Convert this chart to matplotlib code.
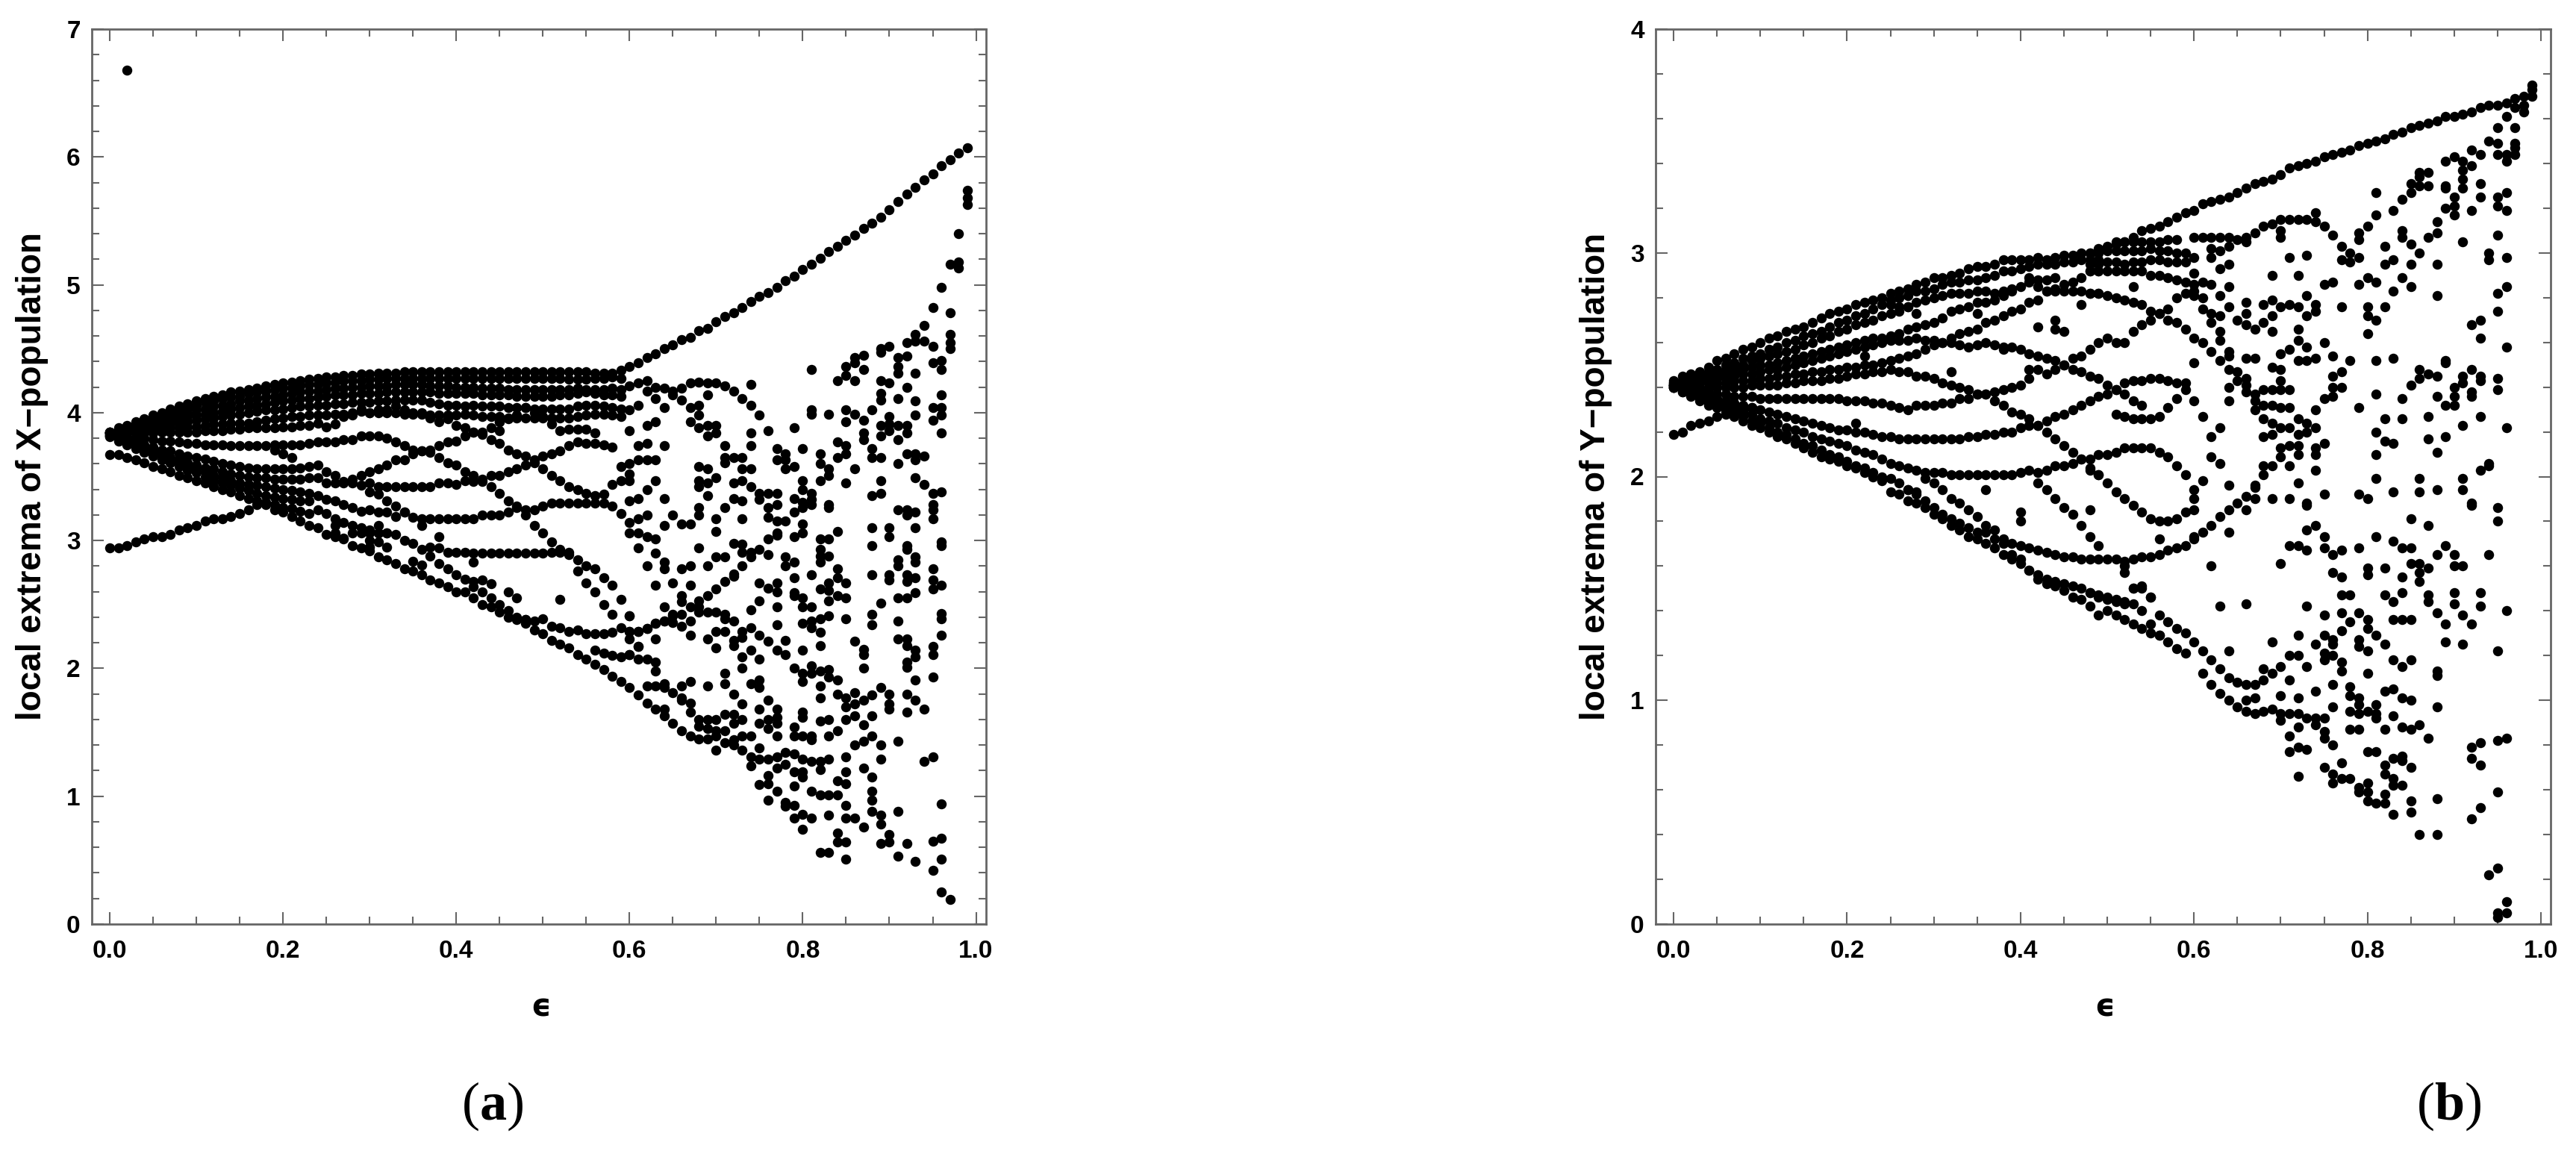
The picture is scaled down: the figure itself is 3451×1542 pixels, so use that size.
import numpy as np
import matplotlib
matplotlib.use("Agg")
import matplotlib.pyplot as plt
from matplotlib.ticker import MultipleLocator

plt.rcParams['font.family'] = ['Liberation Sans', 'DejaVu Sans']
plt.rcParams['mathtext.fontset'] = 'custom'
plt.rcParams['mathtext.rm'] = 'Liberation Serif'
plt.rcParams['mathtext.bf'] = 'Liberation Serif:bold'

# ---------- Panel (a): X-population, branches (values at 0.01 steps of epsilon) ----------
a_top = [3.85,3.88,3.90,3.93,3.95,3.98,4.00,4.03,4.05,4.07,4.09,4.11,4.13,4.14,4.16,4.17,4.18,4.19,4.21,4.22,4.23,4.24,4.25,4.26,4.27,4.28,4.28,4.29,4.29,4.30,4.30,4.31,4.31,4.31,4.32,4.32,4.32,4.32,4.32,4.32,4.32,4.32,4.32,4.32,4.32,4.32,4.32,4.32,4.32,4.32,4.32,4.32,4.32,4.32,4.32,4.32,4.31,4.31,4.31,4.33,
 4.36,4.39,4.43,4.46,4.50,4.53,4.57,4.59,4.64,4.66,4.71,4.75,4.78,4.82,4.87,4.91,4.94,4.98,5.03,5.07,5.12,5.16,5.21,5.26,5.30,5.35,5.39,5.44,5.48,5.53,5.59,5.65,5.71,5.76,5.82,5.87,5.93,5.98,6.03,6.07]
a_u1 = [3.85,3.87,3.89,3.91,3.94,3.96,3.98,4.00,4.02,4.04,4.06,4.08,4.09,4.11,4.12,4.13,4.15,4.16,4.17,4.18,4.19,4.20,4.21,4.22,4.22,4.23,4.24,4.25,4.25,4.25,4.26,4.26,4.27,4.27,4.27,4.27,4.27,4.27,4.27,4.27,4.27,4.27,4.27,4.27,4.27,4.27,4.27,4.27,4.27,4.27,4.27,4.27,4.27,4.26,4.26,4.26,4.27,4.27,4.28,4.27]
a_u2 = [3.85,3.87,3.88,3.90,3.92,3.94,3.95,3.97,3.99,4.00,4.02,4.03,4.05,4.06,4.07,4.09,4.10,4.11,4.12,4.13,4.14,4.15,4.16,4.17,4.17,4.18,4.19,4.19,4.20,4.20,4.21,4.21,4.21,4.22,4.22,4.22,4.22,4.21,4.21,4.21,4.20,4.20,4.20,4.19,4.19,4.19,4.18,4.18,4.18,4.18,4.18,4.18,4.18,4.18,4.19,4.18,4.18,4.18,4.19,4.18]
a_u3 = [3.85,3.86,3.87,3.89,3.90,3.91,3.93,3.94,3.95,3.97,3.98,3.99,4.00,4.01,4.03,4.04,4.05,4.06,4.07,4.08,4.09,4.10,4.11,4.11,4.12,4.13,4.14,4.14,4.14,4.15,4.15,4.15,4.16,4.16,4.16,4.16,4.16,4.16,4.15,4.15,4.15,4.15,4.15,4.14,4.14,4.14,4.14,4.13,4.13,4.13,4.13,4.13,4.14,4.14,4.15,4.16,4.15,4.14,4.14,4.13]
a_u4 = [3.84,3.85,3.86,3.87,3.88,3.89,3.90,3.91,3.92,3.93,3.94,3.95,3.96,3.97,3.98,3.99,4.00,4.01,4.02,4.02,4.03,4.04,4.05,4.05,4.06,4.06,4.07,4.07,4.08,4.08,4.08,4.09,4.09,4.10,4.10,4.10,4.10,4.08,4.07,4.06,4.06,4.05,4.06,4.05,4.05,4.05,4.04,4.04,4.04,4.03,4.03,4.03,4.03,4.03,4.05,4.06,4.06,4.05,4.04,4.03]
a_u5 = [3.84,3.84,3.85,3.85,3.86,3.87,3.87,3.88,3.88,3.89,3.89,3.90,3.91,3.91,3.92,3.92,3.92,3.93,3.94,3.95,3.96,3.97,3.97,3.98,3.98,3.98,3.99,3.99,4.00,4.01,4.00,4.00,4.00,4.00,3.99,3.99,3.99,3.98,3.98,3.98,3.98,3.99,3.98,3.97,3.97,3.97,3.96,3.96,3.96,3.96,3.96,3.96,3.96,3.96,3.97,3.98,3.99,3.99,3.98,3.97]
a_u6 = [3.84,3.84,3.84,3.84,3.84,3.84,3.85,3.85,3.85,3.85,3.85,3.86,3.86,3.86,3.87,3.87,3.88,3.88,3.88,3.88,3.89,3.89,3.90,3.90]
a_ra = [3.92,3.89,3.91,3.97,3.98,4.03,4.00,4.02,4.02,4.05,4.02,4.00,4.00,3.96,3.93,3.95,3.90,3.88,3.85,3.83,3.79,3.76,3.71,3.68,3.66,3.61,3.56,3.51,3.47,3.42,3.40,3.37,3.35,3.36,3.44,3.47]
a_l8 = [3.83,3.82,3.81,3.80,3.80,3.79,3.78,3.78,3.77,3.76,3.76,3.75,3.75,3.75,3.74,3.74,3.74,3.74,3.74,3.75,3.75,3.75,3.75,3.76]
a_rb = [3.77,3.77,3.77,3.79,3.79,3.82,3.82,3.82,3.80,3.77,3.74,3.71,3.70,3.69,3.65,3.61,3.59,3.54,3.51,3.48,3.42,3.37,3.31,3.27,3.20,3.12,3.06,2.99,2.93,2.89,2.85,2.80,2.78,2.71,2.65,2.54,2.41]
a_l9 = [3.83,3.81,3.79,3.77,3.75,3.73,3.71,3.70,3.68,3.66,3.65,3.64,3.62,3.60,3.59,3.58,3.57,3.56,3.56,3.56,3.56,3.56,3.57,3.58]
a_rc = [3.59,3.54,3.51,3.46,3.48,3.51,3.54,3.56,3.59,3.63,3.63,3.68,3.70,3.71,3.74,3.77,3.78,3.82,3.85,3.85,3.88,3.93,3.95,3.98,4.04,4.00,3.97,3.91,3.86,3.87,3.87,3.87,3.84]
a_l10 = [3.82,3.80,3.77,3.75,3.72,3.70,3.68,3.65,3.63,3.61,3.59,3.57,3.56,3.54,3.52,3.51,3.50,3.49,3.49,3.48,3.48,3.48,3.48,3.49]
a_rd = [3.49,3.45,3.45,3.45,3.45,3.43,3.45,3.42,3.42,3.42,3.42,3.42,3.42,3.42,3.45,3.45,3.44,3.47,3.46,3.46,3.51,3.51,3.54,3.56,3.59,3.63,3.66,3.68,3.70,3.74,3.77,3.76,3.76,3.75,3.73,3.58]
a_l11 = [3.82,3.79,3.76,3.74,3.71,3.68,3.66,3.63,3.61,3.58,3.56,3.54,3.51,3.49,3.47,3.45,3.44,3.43,3.42,3.41,3.40,3.39,3.38,3.37]
a_re = [3.35,3.32,3.31,3.28,3.26,3.23,3.24,3.22,3.22,3.19,3.22,3.18,3.17,3.17,3.17,3.17,3.17,3.17,3.17,3.20,3.20,3.20,3.22,3.26,3.24,3.24,3.27,3.29,3.29,3.29,3.29,3.29,3.29,3.29,3.27,3.21,3.14,3.06]
a_l12 = [3.81,3.78,3.75,3.72,3.69,3.66,3.63,3.61,3.58,3.55,3.53,3.50,3.47,3.45,3.43,3.41,3.39,3.37,3.35,3.34,3.33,3.32,3.31,3.31]
a_desc = [3.67,3.67,3.65,3.63,3.61,3.58,3.56,3.54,3.51,3.49,3.47,3.45,3.42,3.40,3.38,3.35,3.33,3.31,3.30,3.28,3.26,3.25,3.23,3.21,3.24,3.21]
a_rf = [3.17,3.14,3.12,3.10,3.08,3.06,3.06,3.05,3.00,2.98,2.93,2.95,2.94,2.91,2.91,2.91,2.90,2.90,2.90,2.90,2.90,2.90,2.90,2.90,2.90,2.91,2.91,2.91,2.76,2.67,2.60,2.50,2.42]
a_low = [2.94,2.94,2.96,2.99,3.01,3.03,3.03,3.05,3.08,3.10,3.12,3.15,3.17,3.17,3.19,3.21,3.24,3.28,3.28,3.24,3.22,3.19,3.15,3.12,3.10,3.05,3.03,3.01,2.96,2.94,2.92,2.87,2.85,2.82,2.78,2.76,2.73,2.69,2.67,2.64,2.60,2.60,2.55,2.50,2.48,2.44,2.40,2.38,2.35,2.30,2.27,2.22,2.19,2.16,2.11,2.07,2.03,1.99,1.94,1.90,1.85,1.79,1.73,1.68,1.63,1.57,1.51,1.47,1.45,1.45,1.47,1.42,1.40,1.36,1.31,1.29,1.29,1.31,1.34,1.33,1.29,1.27,1.27]
a_row229 = [2.38,2.37,2.39,2.33,2.32,2.29,2.30,2.27,2.27,2.27,2.28,2.32,2.29,2.29,2.31,2.35,2.37,2.41]
a_h = [2.84,2.81,2.88,2.82,2.78,2.73,2.70,2.68,2.69,2.66]
a_h2 = [2.64,2.60,2.55,2.50,2.45,2.40,2.38]
a_low2 = [2.14,2.12,2.10,2.09,2.11,2.17]
a_iso_e = [0.02,0.42,0.38,0.32,0.33,0.34,0.30,0.31,0.36,0.46,0.47,0.26,0.26,0.27,0.28,0.29,0.30,0.30,0.30,0.31,0.31,0.31,0.32,0.32,0.45,0.45,0.52,0.20,0.21,0.19]
a_iso_v = [6.68,2.83,3.03,3.31,3.27,3.22,3.38,3.36,3.12,2.60,2.55,3.12,3.06,3.02,3.06,3.06,3.06,3.00,2.95,3.12,3.06,2.99,3.06,2.95,3.93,3.86,2.54,3.68,3.65,3.71]

# ---------- Panel (a): scattered region, one list per epsilon ----------
a_e60 = [4.21,4.02,3.86,3.60,3.52,3.47,3.31,3.06,2.41,2.29,2.23,2.11]
a_e61 = [4.23,4.06,3.74,3.63,3.33,3.17,2.94,2.29,2.17,2.07]
a_e62 = [4.25,4.17,3.90,3.76,3.63,3.40,3.20,3.03,2.80,2.31,2.07,1.86]
a_e63 = [4.20,4.11,3.93,3.63,3.47,3.01,2.90,2.65,2.35,2.23,2.05,1.98,1.86]
a_e64 = [4.19,4.04,3.74,3.33,3.12,2.83,2.78,2.48,2.37,1.88,1.85,1.68]
a_e65 = [4.17,4.14,3.20,2.67,2.42,2.36,1.81]
a_e66 = [4.19,4.10,3.13,2.78,2.57,2.52,2.42,2.33,1.86,1.77,1.75]
a_e67 = [4.23,4.04,3.93,3.13,2.80,2.65,2.48,2.37,2.26,1.90,1.73,1.66]
a_e68 = [4.24,4.06,3.98,3.88,3.58,3.47,3.42,3.26,3.20,2.94,2.53,2.48,2.44,1.60,1.55]
a_e69 = [4.23,4.14,3.90,3.82,3.56,3.45,3.35,2.80,2.57,2.44,2.23,1.86,1.60,1.53]
a_e70 = [4.23,3.90,3.84,3.49,3.17,3.07,2.87,2.62,2.44,2.29,2.16,1.60,1.51,1.36]
a_e71 = [4.21,3.74,3.65,3.61,3.26,2.87,2.68,2.42,2.39,2.29,1.96,1.88,1.64,1.51]
a_e72 = [4.17,3.65,3.45,3.33,2.98,2.74,2.72,2.37,2.22,2.18,1.80,1.64,1.57,1.44]
a_e73 = [4.11,3.65,3.56,3.47,3.31,3.17,2.97,2.91,2.80,2.29,2.24,2.09,2.00,1.72,1.60,1.47]
a_e74 = [4.22,4.06,3.84,3.74,3.56,3.42,2.91,2.87,2.46,2.32,2.14,1.88,1.47,1.24]
a_e75 = [3.98,3.37,3.32,2.93,2.53,2.67,2.26,2.07,1.91,1.85,1.68,1.57,1.38,1.09]
a_e76 = [3.86,3.37,3.26,3.18,3.01,2.89,2.63,2.21,1.75,1.60,1.53,1.16,1.10,0.97]
a_e77 = [3.72,3.63,3.37,3.28,3.15,3.06,3.04,2.67,2.60,2.48,2.34,2.14,1.68,1.62,1.57,1.47,1.22,1.04]
a_e78 = [3.68,3.63,3.56,3.15,2.87,2.80,2.22,2.11,1.25,0.95,0.92]
a_e79 = [3.88,3.58,3.33,3.22,3.03,2.83,2.71,2.59,2.57,2.00,1.54,1.47,1.19,1.08,0.93,0.83]
a_e80 = [3.72,3.47,3.40,3.30,3.26,3.13,3.06,2.55,2.48,2.35,2.14,1.96,1.90,1.66,1.62,1.47,1.19,1.15,0.86,0.74]
a_e81 = [4.34,4.02,3.99,3.37,3.32,3.28,2.73,2.48,2.37,2.32,2.02,1.96,1.47,1.44,1.04,0.83]
a_e82 = [3.68,3.60,3.47,3.01,2.93,2.88,2.83,2.62,2.39,2.28,2.18,1.98,1.86,1.77,1.59,1.21,1.01,0.56]
a_e83 = [3.99,3.56,3.51,3.28,3.26,3.01,2.88,2.67,2.61,2.53,2.41,1.99,1.93,1.60,1.47,1.29,1.01,0.85,0.56]
a_e84 = [4.25,3.77,3.65,3.07,2.78,2.71,2.57,1.91,1.80,1.51,1.12,1.01,0.71,0.64]
a_e85 = [4.36,4.29,4.02,3.93,3.74,3.68,3.45,2.67,2.55,2.39,1.77,1.70,1.60,1.31,1.19,1.10,0.93,0.83,0.64,0.51]
a_e86 = [4.43,4.39,4.25,3.99,3.56,2.21,1.81,1.72,1.63,1.40,0.83]
a_e87 = [4.45,4.34,3.94,3.84,3.79,2.15,2.11,2.00,1.75,1.56,1.43,1.22,0.76]
a_e88 = [4.02,3.72,3.65,3.35,3.10,2.96,2.73,2.42,2.34,1.79,1.63,1.47,1.15,1.04,0.97,0.88]
a_e89 = [4.50,4.47,4.25,4.15,4.10,3.90,3.82,3.65,3.47,3.37,2.51,1.85,1.40,1.29,0.85,0.78,0.63]
a_e90 = [4.52,4.23,3.97,3.91,3.86,3.10,3.03,2.73,2.69,1.80,1.72,1.68,0.70,0.64]
a_e91 = [4.43,4.36,4.31,4.11,3.90,3.79,3.60,3.24,2.85,2.80,2.55,2.37,2.23,1.43,0.88,0.53]
a_e92 = [4.55,4.44,4.20,3.90,3.84,3.68,3.24,3.20,2.96,2.93,2.73,2.68,2.55,2.23,2.18,2.05,2.01,1.80,1.66,0.63]
a_e93 = [4.61,4.56,4.31,4.09,3.98,3.68,3.63,3.49,3.22,3.10,2.87,2.83,2.71,2.59,2.14,2.09,1.91,1.75,0.49]
a_e94 = [4.68,4.56,3.66,3.44,1.68,1.27]
a_e95 = [4.82,4.52,4.39,4.04,3.94,3.37,3.28,3.24,3.17,2.78,2.69,2.62,2.17,2.11,1.93,1.31,0.65,0.42]
a_e96 = [4.98,4.41,4.34,4.14,4.04,3.98,3.84,3.38,2.99,2.96,2.65,2.43,2.39,2.26,0.94,0.67,0.51,0.25]
a_e97 = [5.16,4.78,4.61,4.55,4.50,0.19]
a_e98 = [5.40,5.18,5.13]
a_e99 = [5.74,5.68,5.63]

# ---------- Panel (b): Y-population, branches ----------
b_top = [2.43,2.45,2.46,2.47,2.49,2.52,2.53,2.55,2.57,2.58,2.60,2.62,2.63,2.65,2.66,2.67,2.69,2.71,2.73,2.74,2.75,2.77,2.78,2.79,2.80,2.82,2.83,2.84,2.86,2.87,2.89,2.89,2.90,2.91,2.93,2.94,2.94,2.95,2.97,2.97,2.97,2.97,2.98,2.97,2.98,2.99,2.99,3.00,3.00,3.02,3.03,3.04,3.05,3.07,3.10,3.11,3.12,3.14,3.16,3.18]
b_f1 = [2.42,2.43,2.45,2.46,2.47,2.48,2.50,2.51,2.53,2.54,2.55,2.57,2.58,2.60,2.61,2.63,2.64,2.65,2.67,2.69,2.70,2.72,2.73,2.75,2.77,2.79,2.80,2.81,2.83,2.83,2.84,2.86,2.87,2.87,2.88,2.88,2.89,2.90,2.92,2.92,2.93,2.94,2.95,2.95,2.95,2.96,2.96,2.97,2.97,2.97]
b_f2 = [2.42,2.43,2.44,2.45,2.46,2.47,2.48,2.49,2.50,2.52,2.53,2.54,2.55,2.56,2.57,2.59,2.60,2.62,2.63,2.65,2.66,2.68,2.69,2.70,2.72,2.73,2.74,2.76]
b_r2 = [2.77,2.76,2.76,2.78,2.79,2.80,2.81,2.82,2.82,2.82,2.83,2.83,2.82,2.83,2.84,2.85,2.87,2.85,2.83,2.83,2.83,2.83,2.83,2.82,2.82]
b_f3 = [2.41,2.42,2.43,2.44,2.44,2.45,2.46,2.47,2.48,2.49,2.50,2.50,2.51,2.52,2.53,2.54,2.55,2.56,2.57,2.58,2.59,2.60,2.61,2.62,2.62,2.63,2.64,2.66,2.67,2.68,2.69,2.71,2.74,2.75,2.76,2.78,2.78,2.79,2.81,2.83]
b_f4 = [2.41,2.42,2.42,2.43,2.43,2.44,2.44,2.45,2.46,2.46,2.47,2.48,2.48,2.49,2.50,2.51,2.52,2.53,2.54,2.55,2.56,2.57,2.58,2.59,2.60,2.61,2.61,2.61,2.62,2.61,2.61,2.60,2.62,2.64,2.65,2.66,2.69,2.70,2.72,2.74,2.75,2.78,2.79,2.83,2.84]
b_f6 = [2.41,2.41,2.41,2.42,2.42,2.42,2.42,2.43,2.43,2.43,2.44,2.44,2.45,2.45,2.46,2.46,2.47,2.47,2.48,2.48,2.49,2.49,2.50,2.50,2.51,2.52,2.53,2.54,2.55,2.57,2.59,2.60,2.60]
b_r5 = [2.59,2.58,2.59,2.60,2.59,2.58,2.58,2.57,2.55,2.54,2.53,2.52,2.50,2.48,2.47,2.45,2.44,2.41,2.39,2.37,2.34,2.32]
b_f7 = [2.41,2.41,2.40,2.40,2.40,2.40,2.40,2.40,2.40,2.41,2.41,2.41,2.41,2.42,2.42,2.43,2.43,2.43,2.44,2.44,2.45,2.46,2.46,2.47,2.47,2.48,2.47,2.47,2.45,2.45,2.44,2.42,2.41,2.40,2.39,2.37,2.37,2.34,2.32,2.29,2.28,2.26,2.23,2.20,2.17,2.14,2.11,2.08]
b_f7b = [2.41,2.40,2.39,2.39,2.38,2.37,2.37,2.36,2.36,2.36,2.35,2.35,2.35,2.35,2.35,2.35,2.35,2.35,2.35,2.35,2.34,2.34,2.34,2.33,2.33,2.32,2.31,2.30,2.32,2.32,2.32,2.33,2.33,2.35,2.35,2.37,2.37,2.38,2.39,2.40,2.41,2.44]
b_r8 = [2.48,2.48,2.46,2.48,2.50,2.53,2.54,2.57,2.60,2.62,2.60,2.60,2.65,2.68,2.70,2.73,2.75,2.80,2.82,2.86]
b_f8 = [2.40,2.39,2.38,2.37,2.36,2.35,2.34,2.33,2.32,2.31,2.30,2.29,2.28,2.27,2.26,2.25,2.24,2.23,2.22,2.21,2.21,2.20,2.20,2.19,2.18,2.18,2.17,2.17,2.17,2.17,2.17,2.17,2.17,2.17,2.18,2.18,2.19,2.19,2.20,2.20,2.22,2.23,2.23,2.25,2.27,2.28,2.30,2.32,2.34,2.36,2.37,2.39,2.42,2.43,2.43,2.44,2.44,2.43,2.42,2.42]
b_close = [2.28,2.27,2.26,2.26,2.26,2.27,2.31,2.35,2.39]
b_rise = [2.19,2.20,2.23,2.24,2.25,2.27,2.28,2.29,2.30,2.31]
b_f9 = [2.40,2.39,2.37,2.36,2.35,2.33,2.32,2.31,2.29,2.28,2.26,2.25,2.24,2.22,2.21,2.20,2.18,2.17,2.16,2.15,2.14,2.12,2.11,2.10,2.08,2.06,2.05,2.04,2.03,2.02,2.02,2.02,2.01,2.01,2.01,2.01,2.01,2.01,2.01,2.01,2.02,2.03,2.02,2.03,2.05,2.05,2.06,2.08,2.08,2.10,2.10,2.11,2.13,2.13,2.13,2.13,2.11,2.09,2.05,2.01,1.94]
b_f10 = [2.40,2.38,2.37,2.35,2.33,2.32,2.30,2.28,2.27,2.25,2.24,2.22,2.20,2.19,2.17,2.15,2.14,2.12,2.10,2.09,2.07,2.05,2.04,2.02,2.00,1.99,1.97,1.94,1.93,1.99,1.97,1.94,1.90,1.88,1.85,1.82,1.78,1.76,1.72,1.70,1.69,1.68,1.67,1.66,1.65,1.64,1.64,1.63,1.63,1.63,1.63,1.63,1.62,1.63,1.64,1.64,1.65,1.67,1.68,1.69,1.72]
b_sec = [1.94,1.92,1.89,1.86,1.83,1.81,1.79,1.77,1.75,1.75,1.72,1.70,1.65,1.63,1.58,1.56,1.54,1.53,1.52,1.51,1.50,1.48,1.47,1.46,1.45,1.44,1.50,1.50,1.46,1.38,1.35,1.32,1.30]
b_low = [2.40,2.38,2.36,2.34,2.32,2.31,2.29,2.27,2.25,2.23,2.22,2.20,2.18,2.17,2.15,2.13,2.11,2.09,2.08,2.07,2.05,2.04,2.02,2.00,1.98,1.93,1.92,1.89,1.88,1.86,1.83,1.81,1.78,1.76,1.73,1.72,1.70,1.68,1.65,1.63,1.61,1.58,1.54,1.52,1.51,1.49,1.46,1.45,1.42,1.38,1.40,1.38,1.36,1.34,1.32,1.30,1.29,1.26,1.23,1.21]
b_sec2 = [1.48,1.46,1.45,1.44,1.43,1.43,1.40,1.34,1.29]
b_ra = [3.00,3.00,3.01,3.01,3.01,3.01,3.01,3.02,3.01,3.01,3.00,3.00]
b_rb = [2.95,2.95,2.96,2.96,2.95,2.96,2.96,2.97,2.97,2.96,2.96,2.96]
b_rc = [2.92,2.92,2.92,2.92,2.92,2.92,2.92,2.90,2.90,2.89,2.88,2.87]
b_rd = [2.82,2.82,2.81,2.80,2.79,2.78,2.77,2.74,2.73,2.70,2.69,2.66]
b_re = [3.05,3.05,3.05,3.05,3.05,3.05,3.06,3.06]
b_rf = [2.89,2.88,2.88,2.89,2.86,2.87,2.89,2.92,2.92]
b_falling = [1.97,1.94,1.90,1.86,1.83,1.78,1.73,1.69]
b_down = [2.04,2.01,1.97,1.93,1.90,1.87,1.84,1.81,1.80,1.80,1.81,1.84]
b_iso_e = [0.28,0.32,0.47,0.42,0.44,0.44,0.45,0.35,0.38,0.36,0.40,0.40,0.48,0.48,0.49,0.21,0.22,0.53,0.53,0.54,0.55,0.56,0.52,0.52]
b_iso_v = [2.73,2.47,2.77,2.67,2.70,2.66,2.65,2.73,2.57,1.94,1.84,1.80,1.85,2.03,2.01,2.24,2.54,2.85,1.50,1.51,1.46,1.72,1.60,1.57]

# ---------- Panel (b): scattered region ----------
b_e60 = [3.19,3.07,2.98,2.91,2.83,2.81,2.62,2.51,2.34,1.90,1.85,1.73,1.26]
b_e61 = [3.22,3.07,2.87,2.80,2.75,2.60,2.27,1.98,1.75,1.22,1.12]
b_e62 = [3.23,3.07,3.02,2.98,2.86,2.73,2.69,2.56,2.18,2.09,1.78,1.60,1.18,1.07]
b_e63 = [3.24,3.07,3.01,2.93,2.81,2.72,2.65,2.61,2.52,2.22,2.06,1.82,1.14,1.03,1.42]
b_e64 = [3.25,3.07,3.03,2.95,2.85,2.76,2.56,2.54,2.48,2.40,2.34,1.96,1.85,1.75,1.22,1.10,1.00]
b_e65 = [3.27,3.06,2.47,2.43,2.70,1.88,1.08,0.97]
b_e66 = [3.29,3.07,3.05,2.78,2.73,2.68,2.53,2.44,2.41,2.38,1.91,1.85,1.43,1.07,1.00,0.95]
b_e67 = [3.31,3.09,2.66,2.53,2.37,2.34,2.30,1.96,1.90,1.95,1.07,1.01,0.94]
b_e68 = [3.32,3.12,2.77,2.69,2.39,2.32,2.26,2.18,2.05,2.01,1.14,1.09,0.95]
b_e69 = [3.33,3.13,2.90,2.79,2.72,2.65,2.49,2.39,2.32,2.24,2.19,2.05,1.90,1.26,1.12,0.96]
b_e70 = [3.35,3.15,3.10,3.07,2.76,2.55,2.48,2.43,2.39,2.31,2.22,2.13,2.09,1.61,1.15,1.02,0.94,0.91]
b_e71 = [3.38,3.15,2.98,2.77,2.57,2.39,2.31,2.22,2.14,2.05,1.90,1.69,1.20,1.09,0.94,0.84,0.77]
b_e72 = [3.39,3.15,2.90,2.76,2.66,2.61,2.52,2.26,2.19,2.14,2.10,1.97,1.69,1.29,1.20,1.01,0.94,0.88,0.79,0.66]
b_e73 = [3.40,3.15,2.99,2.81,2.72,2.58,2.52,2.24,2.20,1.88,1.87,1.76,1.67,1.42,1.15,0.92,0.78]
b_e74 = [3.41,3.18,3.14,2.77,2.74,2.53,2.30,2.22,2.13,2.10,2.03,1.78,1.25,1.04,0.92,0.89]
b_e75 = [3.43,3.12,2.86,2.60,2.35,2.15,1.92,1.73,1.68,1.38,1.29,1.21,1.18,0.92,0.86,0.83,0.70]
b_e76 = [3.44,3.08,2.87,2.54,2.45,2.40,2.36,1.65,1.57,1.27,1.25,1.20,1.07,0.97,0.80,0.67,0.63]
b_e77 = [3.45,3.03,2.97,2.76,2.47,2.40,1.67,1.55,1.47,1.39,1.31,1.17,1.13,0.72,0.65]
b_e78 = [3.46,3.00,2.96,2.52,1.47,1.35,1.06,1.02,0.95,0.87,0.65]
b_e79 = [3.48,3.09,3.06,2.98,2.86,2.31,1.92,1.68,1.39,1.27,1.24,1.01,0.98,0.94,0.87,0.61,0.59]
b_e80 = [3.49,3.12,2.89,2.76,2.72,2.64,1.90,1.59,1.56,1.36,1.32,1.22,1.12,0.95,0.77,0.63,0.59,0.55]
b_e81 = [3.50,3.27,3.17,2.87,2.70,2.52,2.37,2.20,2.10,1.99,1.73,1.29,0.98,0.94,0.92,0.77,0.54]
b_e82 = [3.51,3.03,2.95,2.76,2.26,2.16,1.59,1.47,1.25,1.04,0.87,0.71,0.67,0.58,0.54]
b_e83 = [3.53,3.19,2.97,2.83,2.53,2.15,1.93,1.71,1.44,1.36,1.18,1.05,0.93,0.74,0.65,0.62,0.49]
b_e84 = [3.54,3.24,3.10,3.07,2.89,2.35,2.26,1.68,1.55,1.48,1.36,1.15,1.01,0.88,0.75,0.73,0.62]
b_e85 = [3.56,3.31,3.27,3.04,2.95,2.85,2.41,1.81,1.68,1.61,1.36,1.18,1.00,0.87,0.70,0.55,0.50]
b_e86 = [3.57,3.36,3.34,3.30,3.00,2.48,2.44,1.99,1.93,1.61,1.57,1.53,0.89,0.40]
b_e87 = [3.58,3.36,3.30,3.07,2.46,2.27,2.17,1.78,1.59,1.47,1.44,0.83]
b_e88 = [3.59,3.14,3.09,2.95,2.81,2.45,2.36,2.11,1.94,1.65,1.39,1.13,1.11,0.97,0.56,0.40]
b_e89 = [3.61,3.41,3.30,3.29,3.20,2.52,2.51,2.32,2.18,1.69,1.34,1.26]
b_e90 = [3.61,3.43,3.25,3.21,3.17,2.40,2.36,2.32,1.65,1.60,1.48,1.43]
b_e91 = [3.62,3.41,3.37,3.33,3.29,3.05,2.45,2.42,2.23,1.99,1.94,1.60,1.38,1.25]
b_e92 = [3.63,3.46,3.39,3.19,2.68,2.48,2.38,2.36,1.88,1.87,1.34,0.79,0.74,0.47]
b_e93 = [3.65,3.44,3.31,3.25,2.70,2.62,2.45,2.43,2.27,2.03,1.48,1.42,0.81,0.71,0.52]
b_e94 = [3.66,3.50,3.00,2.97,2.06,2.05,1.65,0.22]
b_e95 = [3.66,3.56,3.49,3.44,3.25,3.21,3.08,2.82,2.74,2.44,2.39,1.86,1.80,1.22,0.82,0.59,0.25,0.05,0.03]
b_e96 = [3.67,3.61,3.44,3.41,3.27,3.19,2.98,2.85,2.58,2.22,1.40,0.83,0.10,0.05]
b_e97 = [3.69,3.65,3.56,3.49,3.47,3.44]
b_e98 = [3.70,3.66,3.63]
b_e99 = [3.75,3.73,3.70]

x_major = [0.0, 0.2, 0.4, 0.6, 0.8, 1.0]
x_labels = ['0.0', '0.2', '0.4', '0.6', '0.8', '1.0']

a_branches = [(0.00,a_top),(0.00,a_u1),(0.00,a_u2),(0.00,a_u3),(0.00,a_u4),(0.00,a_u5),(0.00,a_u6),(0.24,a_ra),
 (0.00,a_l8),(0.24,a_rb),(0.00,a_l9),(0.24,a_rc),(0.00,a_l10),(0.24,a_rd),(0.00,a_l11),(0.24,a_re),(0.00,a_l12),
 (0.00,a_desc),(0.26,a_rf),(0.00,a_low),(0.48,a_row229),(0.35,a_h),(0.42,a_h2),(0.56,a_low2)]
a_cols = [a_e60,a_e61,a_e62,a_e63,a_e64,a_e65,a_e66,a_e67,a_e68,a_e69,a_e70,a_e71,a_e72,a_e73,a_e74,a_e75,a_e76,a_e77,a_e78,a_e79,
 a_e80,a_e81,a_e82,a_e83,a_e84,a_e85,a_e86,a_e87,a_e88,a_e89,a_e90,a_e91,a_e92,a_e93,a_e94,a_e95,a_e96,a_e97,a_e98,a_e99]
b_branches = [(0.00,b_top),(0.00,b_f1),(0.00,b_f2),(0.25,b_r2),(0.00,b_f3),(0.00,b_f4),(0.00,b_f6),(0.33,b_r5),(0.00,b_f7),(0.00,b_f7b),
 (0.41,b_r8),(0.00,b_f8),(0.51,b_close),(0.00,b_rise),(0.00,b_f9),(0.00,b_f10),(0.27,b_sec),(0.00,b_low),(0.48,b_sec2),
 (0.48,b_ra),(0.48,b_rb),(0.48,b_rc),(0.48,b_rd),(0.51,b_re),(0.41,b_rf),(0.42,b_falling),(0.48,b_down)]
b_cols = [b_e60,b_e61,b_e62,b_e63,b_e64,b_e65,b_e66,b_e67,b_e68,b_e69,b_e70,b_e71,b_e72,b_e73,b_e74,b_e75,b_e76,b_e77,b_e78,b_e79,
 b_e80,b_e81,b_e82,b_e83,b_e84,b_e85,b_e86,b_e87,b_e88,b_e89,b_e90,b_e91,b_e92,b_e93,b_e94,b_e95,b_e96,b_e97,b_e98,b_e99]

W, H = 3451, 1542
fig = plt.figure(figsize=(W/100, H/100), dpi=100, facecolor='white')
GREY = '#666666'
DOT = 94


def make_axes(l, r, ymax, xlim, ylab, letter, lab_x, eps_x, letter_x):
    ax = fig.add_axes([l/W, 1-1238/H, (r-l)/W, (1238-39)/H])
    ax.set_xlim(*xlim)
    ax.set_ylim(0, ymax)
    ax.xaxis.set_major_locator(MultipleLocator(0.2))
    ax.xaxis.set_minor_locator(MultipleLocator(0.05))
    ax.yaxis.set_major_locator(MultipleLocator(1))
    ax.yaxis.set_minor_locator(MultipleLocator(0.2))
    ax.set_xticks(x_major)
    ax.set_xticklabels(x_labels)
    ax.tick_params(which='major', direction='in', top=True, right=True, length=11.5, width=1.5, color=GREY)
    ax.tick_params(which='minor', direction='in', top=True, right=True, length=7, width=1.5, color=GREY)
    ax.tick_params(axis='x', which='major', pad=15)
    ax.tick_params(axis='y', which='major', pad=11)
    for s in ax.spines.values():
        s.set_color(GREY)
        s.set_linewidth(2.0)
    for t in ax.get_xticklabels() + ax.get_yticklabels():
        t.set_fontsize(24)
        t.set_fontweight('bold')
    fig.text(lab_x/W, 1-638/H, ylab, rotation=90, ha='center', va='center', fontsize=33, fontweight='bold')
    fig.text(eps_x/W, 1-1350/H, '\u03f5', ha='center', va='center', fontsize=30, fontweight='bold', family='DejaVu Sans')
    fig.text(letter_x/W, 1-1482/H, letter, ha='center', va='center', fontsize=52)
    return ax


def draw(ax, branches, cols):
    for start, vals in branches:
        e = start + 0.01*np.arange(len(vals))
        ax.scatter(e, vals, s=DOT, c='black', linewidths=0, clip_on=False, zorder=3)
    for i, vals in enumerate(cols):
        e = np.full(len(vals), 0.60 + 0.01*i)
        ax.scatter(e, vals, s=DOT, c='black', linewidths=0, clip_on=False, zorder=3)


ax_a = make_axes(123, 1321, 7, (-0.0207, 1.0116), 'local extrema of X\u2212population', r'$(\mathbf{a})$', 43, 725, 660)
ax_b = make_axes(2218, 3417, 4, (-0.0207, 1.0112), 'local extrema of Y\u2212population', r'$(\mathbf{b})$', 2138, 2820, 3281)
draw(ax_a, a_branches, a_cols)
ax_a.scatter(a_iso_e, a_iso_v, s=DOT, c='black', linewidths=0, zorder=3)
draw(ax_b, b_branches, b_cols)
ax_b.scatter(b_iso_e, b_iso_v, s=DOT, c='black', linewidths=0, zorder=3)

fig.savefig('out.png', dpi=100, facecolor='white')
